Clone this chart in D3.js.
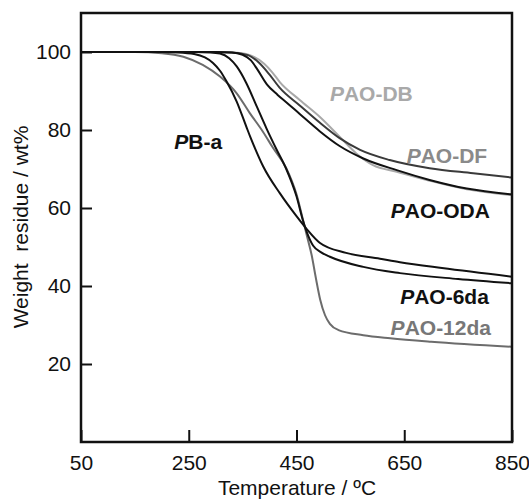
<!DOCTYPE html>
<html>
<head>
<meta charset="utf-8">
<script src="https://cdn.jsdelivr.net/npm/d3@7"></script>
<style>
  body { margin: 0; background: #fff; }
  svg text { font-family: "Liberation Sans", Arial, sans-serif; }
</style>
</head>
<body>
<script>
var width = 529;
var height = 500;

// TGA curves: temperature (°C) and weight residue (wt%)
var pbaT  = [50, 200, 230, 260, 280, 295, 308, 320, 339, 357, 364, 373, 388, 419, 450, 469, 493, 542, 605, 642, 720, 850];
var pbaW  = [100, 100, 99.9, 99.5, 98.6, 97.2, 95.2, 92.5, 87.3, 80.8, 78.3, 75.3, 70.7, 63.8, 57.9, 54.6, 51.1, 48.5, 47, 46.1, 44.6, 42.4];
var da6T  = [50, 260, 290, 308, 325, 339, 357, 376, 394, 413, 431, 450, 462, 470, 481, 495, 512, 574, 642, 750, 850];
var da6W  = [100, 100, 99.9, 99.6, 98.4, 96.3, 92, 86.1, 80.5, 75, 70, 63, 56.8, 53.5, 50.3, 48.7, 47.5, 44.9, 43.3, 41.8, 40.7];
var da12T = [50, 150, 200, 240, 276, 308, 339, 363, 388, 406, 431, 450, 462, 470, 478, 486, 494, 503, 512, 528, 574, 624, 700, 850];
var da12W = [100, 100, 99.7, 98.8, 96.7, 93.7, 89.4, 84.4, 79.5, 75.5, 70.2, 63.5, 57, 52.5, 48, 42, 36.5, 32.5, 30.3, 28.7, 27.4, 26.6, 25.7, 24.4];
var odaT  = [50, 300, 330, 350, 365, 377, 395, 415, 432, 456, 493, 530, 574, 636, 697, 766, 850];
var odaW  = [100, 100, 99.9, 99.3, 97.9, 95.6, 91.7, 89, 87, 84.1, 79.7, 75.9, 72.7, 69.7, 67.2, 65, 63.5];
var dfT   = [50, 300, 330, 360, 380, 400, 419, 456, 493, 530, 568, 623, 697, 778, 850];
var dfW   = [100, 100, 99.9, 99.2, 97.3, 94.2, 90.8, 86.3, 81.9, 77.9, 74.9, 72.3, 70.2, 68.9, 67.8];
var dbT   = [50, 300, 340, 370, 390, 405, 419, 456, 493, 530, 561, 592, 636, 697, 766, 850];
var dbW   = [100, 100, 99.8, 98.8, 97, 94.8, 92.3, 87.7, 83.4, 78.3, 74, 71, 69.3, 67, 64.8, 63.3];

var xTicks = [50, 250, 450, 650, 850];
var yTicks = [20, 40, 60, 80, 100];

var series = [
    {name: "DB",   t: dbT,   w: dbW,   color: "#a9a9a9"},
    {name: "DF",   t: dfT,   w: dfW,   color: "#3a3a3a"},
    {name: "12da", t: da12T, w: da12W, color: "#6c6c6c"},
    {name: "ODA",  t: odaT,  w: odaW,  color: "#111"},
    {name: "PBa",  t: pbaT,  w: pbaW,  color: "#111"},
    {name: "6da",  t: da6T,  w: da6W,  color: "#111"}
];

var x = d3.scaleLinear().domain([50, 850]).range([81, 512]);
var y = d3.scaleLinear().domain([0, 110]).range([442, 13]);

var svg = d3.select("body")
            .append("svg")
            .attr("width", width)
            .attr("height", height);

var line = d3.line()
    .x(function(d) { return x(d[0]); })
    .y(function(d) { return y(d[1]); })
    .curve(d3.curveMonotoneX);

svg.selectAll(".curve")
    .data(series)
    .enter()
    .append("path")
    .attr("class", "curve")
    .attr("d", function(s) { return line(s.t.map(function(t, i) { return [t, s.w[i]]; })); })
    .style("fill", "none")
    .style("stroke", function(s) { return s.color; })
    .style("stroke-width", 2);

// axes
var xAxis = d3.axisBottom(x).tickValues(xTicks).tickSize(-12).tickPadding(13).tickFormat(d3.format("d"));
var yAxis = d3.axisLeft(y).tickValues(yTicks).tickSize(-11).tickPadding(10).tickFormat(d3.format("d"));

var gx = svg.append("g").attr("transform", "translate(0,442)").call(xAxis);
var gy = svg.append("g").attr("transform", "translate(81,0)").call(yAxis);
[gx, gy].forEach(function(g) {
    g.select(".domain").remove();
    g.selectAll(".tick line").style("stroke", "#111").style("stroke-width", 2);
    g.selectAll(".tick text")
        .style("font-size", "21px")
        .style("fill", "#111")
        .style("font-family", "'Liberation Sans', Arial, sans-serif");
});

svg.append("rect")
    .attr("x", 81).attr("y", 13)
    .attr("width", 431).attr("height", 429)
    .style("fill", "none")
    .style("stroke", "#111")
    .style("stroke-width", 2.5);

svg.append("text")
    .attr("x", 297).attr("y", 495)
    .attr("text-anchor", "middle")
    .style("font-size", "21px")
    .style("fill", "#111")
    .text("Temperature / ºC");

svg.append("text")
    .attr("transform", "translate(28,227) rotate(-90)")
    .attr("text-anchor", "middle")
    .style("font-size", "21px")
    .style("fill", "#111")
    .style("white-space", "pre")
    .text("Weight  residue / wt%");

// curve labels (positions in data units)
var labels = [
    {p: "P", rest: "B-a",      t: 223, w: 75.1, anchor: "start", color: "#111"},
    {p: "P", rest: "AO-DB",    t: 512, w: 87.4, anchor: "start", color: "#a9a9a9"},
    {p: "P", rest: "AO-DF",    t: 804, w: 71.5, anchor: "end",   color: "#8a8a8a"},
    {p: "P", rest: "AO-ODA",   t: 809, w: 57.4, anchor: "end",   color: "#111"},
    {p: "P", rest: "AO-6da",   t: 807, w: 35.4, anchor: "end",   color: "#111"},
    {p: "P", rest: "AO-12da",  t: 811, w: 27.4, anchor: "end",   color: "#777"}
];

var lab = svg.selectAll(".lab")
    .data(labels)
    .enter()
    .append("text")
    .attr("class", "lab")
    .attr("x", function(d) { return x(d.t); })
    .attr("y", function(d) { return y(d.w); })
    .attr("text-anchor", function(d) { return d.anchor; })
    .style("font-size", "21px")
    .style("font-weight", "bold")
    .style("fill", function(d) { return d.color; });
lab.append("tspan").style("font-style", "italic").text(function(d) { return d.p; });
lab.append("tspan").text(function(d) { return d.rest; });
</script>
</body>
</html>
